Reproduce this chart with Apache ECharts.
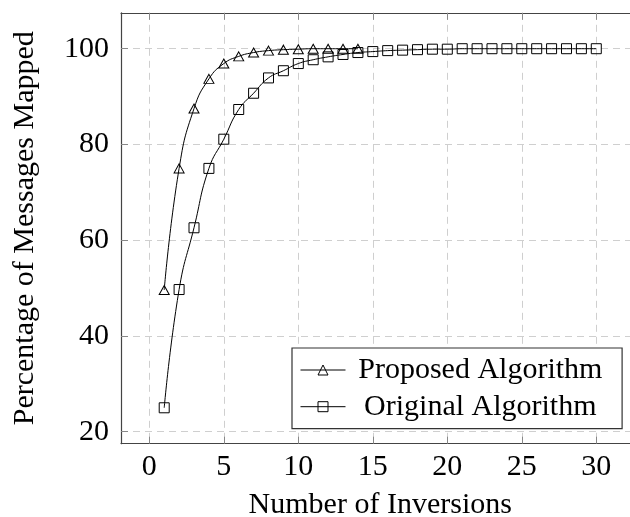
<!DOCTYPE html>
<html>
<head>
<meta charset="utf-8">
<script src="https://cdn.jsdelivr.net/npm/echarts@6/dist/echarts.min.js"></script>
<style>
html,body{margin:0;padding:0;background:#fff;}
#c{width:630px;height:517px;}
</style>
</head>
<body>
<div id="c"></div>
<script>
const inversions = [1,2,3,4,5,6,7,8,9,10,11,12,13,14,15,16,17,18,19,20,21,22,23,24,25,26,27,28,29,30];
const proposed = [49.6,75.0,87.5,93.7,96.9,98.4,99.2,99.6,99.8,99.9,100,100,100,100];
const original = [25.0,49.7,62.6,75.0,81.1,87.3,90.7,93.9,95.4,96.9,97.7,98.3,98.8,99.2,99.4,99.6,99.7,99.8,99.9,99.9,100,100,100,100,100,100,100,100,100,100];
const xTicks = [0,5,10,15,20,25,30];
const yTicks = [20,40,60,80,100];
const seriesNames = ['Proposed Algorithm','Original Algorithm'];

const FONT = 'Liberation Serif';
const axisCol = '#444';
const gridCol = '#cfcfcf';

function pairs(vals){ return vals.map((v,i)=>[inversions[i], v]); }

const chart = echarts.init(document.getElementById('c'));
const xBase = {
  type:'value', min:-1.9, max:32.9,
  axisLine:{show:true, onZero:false, lineStyle:{color:axisCol, width:1.2}},
  axisTick:{show:true, inside:true, length:7, customValues:xTicks, lineStyle:{color:'#888', width:1}},
};
const yBase = {
  type:'value', min:17.5, max:107.5,
  axisLine:{show:true, onZero:false, lineStyle:{color:axisCol, width:1.2}},
  axisTick:{show:true, inside:true, length:7, customValues:yTicks, lineStyle:{color:'#888', width:1}},
};
const markStyle = {color:'none', borderColor:'#000', borderWidth:1};
chart.setOption({
  animation:false,
  backgroundColor:'#fff',
  textStyle:{fontFamily:FONT},
  grid:{left:121, top:12.8, width:518.5, height:430.9, outerBoundsMode:'none', containLabel:false},
  xAxis:[
    Object.assign({}, xBase, {
      position:'bottom',
      axisLabel:{show:true, customValues:xTicks, margin:8, fontSize:30, color:'#000', fontFamily:FONT},
      splitLine:{show:true, lineStyle:{color:gridCol, type:[7,5], width:1}},
      name:'Number of Inversions', nameLocation:'middle', nameGap:46,
      nameTextStyle:{fontSize:30, color:'#000', fontFamily:FONT}
    }),
    Object.assign({}, xBase, {
      position:'top',
      axisLabel:{show:false},
      splitLine:{show:false}
    })
  ],
  yAxis:[
    Object.assign({}, yBase, {
      position:'left',
      axisLabel:{show:true, customValues:yTicks, margin:12, fontSize:30, color:'#000', fontFamily:FONT},
      splitLine:{show:true, lineStyle:{color:gridCol, type:[7,5], width:1}},
      name:'Percentage of Messages Mapped', nameLocation:'middle', nameGap:81, nameRotate:90,
      nameTextStyle:{fontSize:30, color:'#000', fontFamily:FONT}
    }),
    Object.assign({}, yBase, {
      position:'right',
      axisLabel:{show:false},
      splitLine:{show:false}
    })
  ],
  legend:{
    left:292, top:348, orient:'vertical',
    padding:[7,12,7,8], itemGap:6.7,
    itemWidth:45, itemHeight:12.5,
    backgroundColor:'#fff', borderColor:'#333', borderWidth:1.2, borderRadius:0,
    formatter: function(n){ return '{t|' + n + '}'; },
    itemStyle:markStyle,
    lineStyle:{color:'#000', width:1},
    textStyle:{
      fontFamily:FONT, fontSize:30, color:'#000',
      rich:{t:{width:259.6, align:'center', fontSize:30, fontFamily:FONT, color:'#000', lineHeight:30}}
    },
    data:seriesNames.map(n=>({name:n, itemStyle:markStyle}))
  },
  series:[
    {
      name:seriesNames[0], type:'line', xAxisIndex:0, yAxisIndex:0,
      data:pairs(proposed), smooth:0.5,
      symbol:'triangle', symbolSize:[10,9], showAllSymbol:true,
      lineStyle:{color:'#000', width:1},
      itemStyle:markStyle
    },
    {
      name:seriesNames[1], type:'line', xAxisIndex:0, yAxisIndex:0,
      data:pairs(original), smooth:0.5,
      symbol:'rect', symbolSize:10, showAllSymbol:true,
      lineStyle:{color:'#000', width:1},
      itemStyle:markStyle
    }
  ]
});
</script>
</body>
</html>
